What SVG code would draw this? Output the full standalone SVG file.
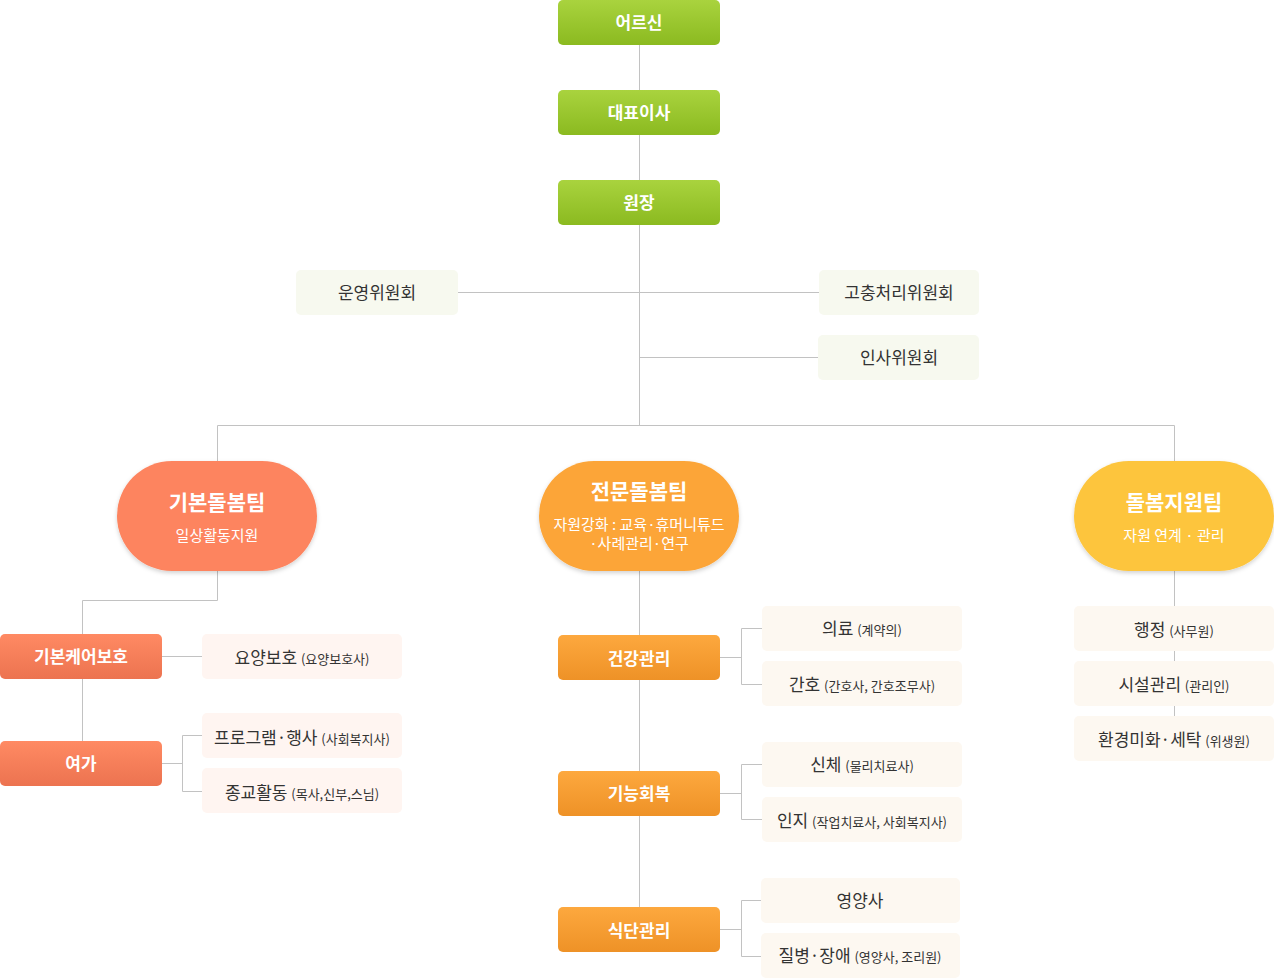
<svg xmlns="http://www.w3.org/2000/svg" width="1274" height="978" viewBox="0 0 1274 978">
<defs>
<linearGradient id="gGreen" x1="0" y1="0" x2="0" y2="1"><stop offset="0" stop-color="#a9d33e"/><stop offset="1" stop-color="#8bba20"/></linearGradient>
<linearGradient id="gCoral" x1="0" y1="0" x2="0" y2="1"><stop offset="0" stop-color="#ff8a63"/><stop offset="1" stop-color="#ec7350"/></linearGradient>
<linearGradient id="gOrange" x1="0" y1="0" x2="0" y2="1"><stop offset="0" stop-color="#fda83e"/><stop offset="1" stop-color="#ee9227"/></linearGradient>
<filter id="sh" x="-10%" y="-10%" width="120%" height="130%"><feDropShadow dx="0" dy="2" stdDeviation="2" flood-color="#000" flood-opacity="0.18"/></filter>
</defs>
<style>
.ln{stroke:#c2c2c2;stroke-width:1;fill:none}
.w{fill:#fff;font-family:"Noto Sans CJK KR","Noto Sans",sans-serif;font-weight:bold;font-size:17px;text-anchor:middle}
.cm{fill:#f7f9ef}
.pk{fill:#fff5f1}
.cr{fill:#fdf8f1}
.t{fill:#333;font-family:"Noto Sans CJK KR","Noto Sans",sans-serif;font-size:17px;text-anchor:middle}
.s{font-size:13px}
.pt{fill:#fff;font-family:"Noto Sans CJK KR","Noto Sans",sans-serif;font-weight:bold;font-size:21px;text-anchor:middle}
.ps{fill:#fff;font-family:"Noto Sans CJK KR","Noto Sans",sans-serif;font-size:15px;text-anchor:middle}
</style>
<g id="connectors">
<path class="ln" d="M639.5 45V425.5M458 292.5H819M639.5 357.5H818M217.5 461V425.5H1174.5V461"/>
<path class="ln" d="M217.5 571V600.5H82.5V634M82.5 679V741"/>
<path class="ln" d="M162 656.5H202M162 763.5H182.5M182.5 735.5V791.5M182.5 735.5H202M182.5 791.5H202"/>
<path class="ln" d="M639.5 571V907"/>
<path class="ln" d="M720 657.5H741.5M741.5 628.5V684.5M741.5 628.5H762M741.5 684.5H762"/>
<path class="ln" d="M720 793.5H741.5M741.5 764.5V819.5M741.5 764.5H762M741.5 819.5H762"/>
<path class="ln" d="M720 929.5H741.5M741.5 900.5V956.5M741.5 900.5H761M741.5 956.5H761"/>
<path class="ln" d="M1174.5 571V606M1174.5 651V661M1174.5 706V716"/>
</g>
<g id="n-elder"><rect x="558" y="0" width="162" height="45" rx="5" fill="url(#gGreen)"/><text class="w" x="639" y="29">어르신</text></g>
<g id="n-ceo"><rect x="558" y="90" width="162" height="45" rx="5" fill="url(#gGreen)"/><text class="w" x="639" y="119">대표이사</text></g>
<g id="n-director"><rect x="558" y="180" width="162" height="45" rx="5" fill="url(#gGreen)"/><text class="w" x="639" y="209">원장</text></g>
<g id="n-opcom"><rect class="cm" x="296" y="270" width="162" height="45" rx="5"/><text class="t" x="377" y="299">운영위원회</text></g>
<g id="n-grievance"><rect class="cm" x="819" y="270" width="160" height="45" rx="5"/><text class="t" x="899" y="299">고충처리위원회</text></g>
<g id="n-hr"><rect class="cm" x="818" y="335" width="161" height="45" rx="5"/><text class="t" x="899" y="364">인사위원회</text></g>
<g id="n-basic-team"><rect x="117" y="461" width="200" height="110" rx="55" fill="#fd845f" filter="url(#sh)"/><text class="pt" x="217" y="510">기본돌봄팀</text><text class="ps" x="217" y="541">일상활동지원</text></g>
<g id="n-pro-team"><rect x="539" y="461" width="200" height="110" rx="55" fill="#fca539" filter="url(#sh)"/><text class="pt" x="639" y="499">전문돌봄팀</text><text class="ps" x="639" y="530">자원강화 : 교육·휴머니튜드</text><text class="ps" x="639" y="549">·사례관리·연구</text></g>
<g id="n-support-team"><rect x="1074" y="461" width="200" height="110" rx="55" fill="#fdc53e" filter="url(#sh)"/><text class="pt" x="1174" y="510">돌봄지원팀</text><text class="ps" x="1174" y="541">자원 연계 · 관리</text></g>
<g id="n-basic-care"><rect x="0" y="634" width="162" height="45" rx="5" fill="url(#gCoral)"/><text class="w" x="81" y="663">기본케어보호</text></g>
<g id="n-leisure"><rect x="0" y="741" width="162" height="45" rx="5" fill="url(#gCoral)"/><text class="w" x="81" y="770">여가</text></g>
<g id="n-yoyang"><rect class="pk" x="202" y="634" width="200" height="45" rx="5"/><text class="t" x="302" y="664">요양보호 <tspan class="s">(요양보호사)</tspan></text></g>
<g id="n-program"><rect class="pk" x="202" y="713" width="200" height="45" rx="5"/><text class="t" x="302" y="744">프로그램·행사 <tspan class="s">(사회복지사)</tspan></text></g>
<g id="n-religion"><rect class="pk" x="202" y="768" width="200" height="45" rx="5"/><text class="t" x="302" y="799">종교활동 <tspan class="s">(목사,신부,스님)</tspan></text></g>
<g id="n-health"><rect x="558" y="635" width="162" height="45" rx="5" fill="url(#gOrange)"/><text class="w" x="639" y="665">건강관리</text></g>
<g id="n-rehab"><rect x="558" y="771" width="162" height="45" rx="5" fill="url(#gOrange)"/><text class="w" x="639" y="800">기능회복</text></g>
<g id="n-diet"><rect x="558" y="907" width="162" height="45" rx="5" fill="url(#gOrange)"/><text class="w" x="639" y="937">식단관리</text></g>
<g id="n-medical"><rect class="cr" x="762" y="606" width="200" height="45" rx="5"/><text class="t" x="862" y="635">의료 <tspan class="s">(계약의)</tspan></text></g>
<g id="n-nursing"><rect class="cr" x="762" y="661" width="200" height="45" rx="5"/><text class="t" x="862" y="691">간호 <tspan class="s">(간호사, 간호조무사)</tspan></text></g>
<g id="n-body"><rect class="cr" x="762" y="742" width="200" height="45" rx="5"/><text class="t" x="862" y="771">신체 <tspan class="s">(물리치료사)</tspan></text></g>
<g id="n-cognition"><rect class="cr" x="762" y="797" width="200" height="45" rx="5"/><text class="t" x="862" y="827">인지 <tspan class="s">(작업치료사, 사회복지사)</tspan></text></g>
<g id="n-nutritionist"><rect class="cr" x="761" y="878" width="199" height="45" rx="5"/><text class="t" x="860" y="907">영양사</text></g>
<g id="n-disease"><rect class="cr" x="761" y="933" width="199" height="45" rx="5"/><text class="t" x="860" y="962">질병·장애 <tspan class="s">(영양사, 조리원)</tspan></text></g>
<g id="n-admin"><rect class="cr" x="1074" y="606" width="200" height="45" rx="5"/><text class="t" x="1174" y="636">행정 <tspan class="s">(사무원)</tspan></text></g>
<g id="n-facility"><rect class="cr" x="1074" y="661" width="200" height="45" rx="5"/><text class="t" x="1174" y="691">시설관리 <tspan class="s">(관리인)</tspan></text></g>
<g id="n-env"><rect class="cr" x="1074" y="716" width="200" height="45" rx="5"/><text class="t" x="1174" y="746">환경미화·세탁 <tspan class="s">(위생원)</tspan></text></g>
</svg>
